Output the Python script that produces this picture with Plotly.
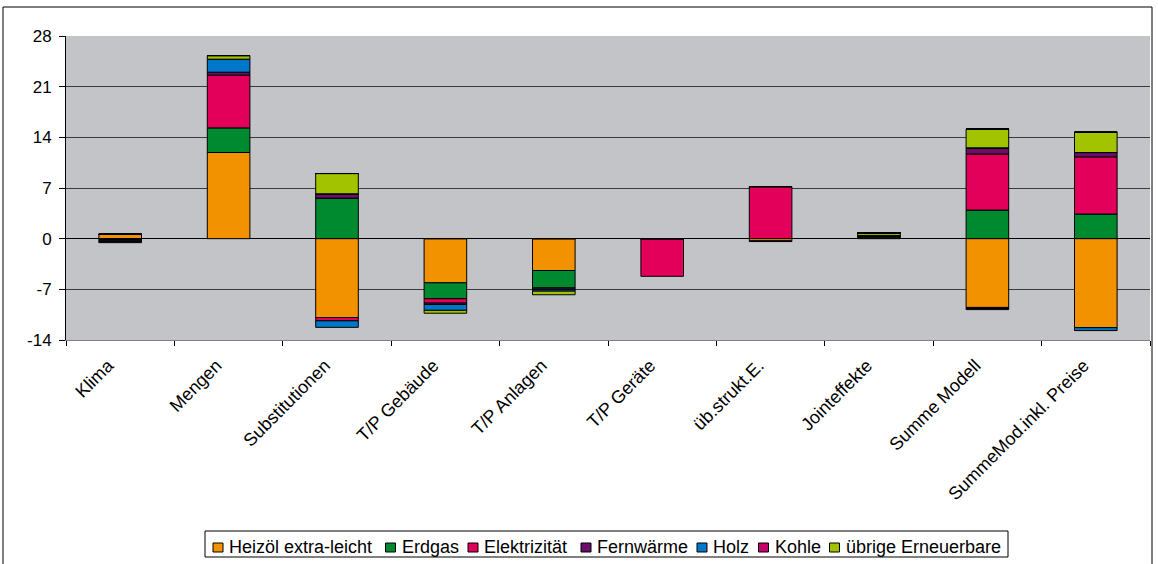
import plotly.graph_objects as go

categories = ["Klima", "Mengen", "Substitutionen", "T/P Gebäude", "T/P Anlagen",
              "T/P Geräte", "üb.strukt.E.", "Jointeffekte", "Summe Modell",
              "SummeMod.inkl. Preise"]

series_names = ["Heizöl extra-leicht", "Erdgas", "Elektrizität", "Fernwärme",
                "Holz", "Kohle", "übrige Erneuerbare"]
colors = ["#F39200", "#008A30", "#E2005A", "#6A0F6A", "#0077C8", "#C8006E", "#A2C400"]

# positive and negative contributions per series (stacked in order)
heizoel_pos = [0.6, 11.9, 0, 0, 0, 0, 0, 0.1, 0, 0]
heizoel_neg = [0, 0, -10.9, -6.1, -4.4, 0, -0.3, 0, -9.5, -12.3]
erdgas_pos = [0, 3.4, 5.6, 0, 0, 0, 0, 0.15, 3.95, 3.4]
erdgas_neg = [-0.1, 0, 0, -2.2, -2.4, 0, 0, 0, 0, 0]
elek_pos = [0, 7.3, 0, 0, 0, 0, 7.2, 0.1, 7.75, 7.9]
elek_neg = [-0.1, 0, -0.45, -0.6, 0, -5.2, -0.1, 0, -0.15, 0]
fern_pos = [0, 0.4, 0.6, 0, 0, 0, 0, 0.1, 0.85, 0.6]
fern_neg = [-0.15, 0, 0, -0.2, -0.2, 0, 0, 0, -0.15, 0]
holz_pos = [0, 1.8, 0, 0, 0, 0, 0, 0, 0, 0]
holz_neg = [-0.1, 0, -0.9, -0.8, -0.25, 0, 0, 0, 0, -0.4]
kohle_pos = [0, 0, 0, 0, 0, 0, 0, 0, 0, 0]
kohle_neg = [0, 0, 0, 0, 0, 0, 0, 0, 0, 0]
uebrig_pos = [0, 0.5, 2.8, 0, 0, 0, 0, 0.35, 2.6, 2.8]
uebrig_neg = [-0.1, 0, 0, -0.4, -0.5, 0, 0, 0, 0, 0]

values = [
    (heizoel_pos, heizoel_neg),
    (erdgas_pos, erdgas_neg),
    (elek_pos, elek_neg),
    (fern_pos, fern_neg),
    (holz_pos, holz_neg),
    (kohle_pos, kohle_neg),
    (uebrig_pos, uebrig_neg),
]

y_ticks = [-14, -7, 0, 7, 14, 21, 28]

FONT = "Liberation Sans, Arial, sans-serif"
W, H = 1158, 564
ML, MR, MT, MB = 66, 8, 36, 224
PW, PH = W - ML - MR, H - MT - MB


def px(x):
    return (x - ML) / PW


def py(y):
    return (H - MB - y) / PH


fig = go.Figure()
for part in (0, 1):
    for name, col, vals in zip(series_names, colors, values):
        fig.add_trace(go.Bar(
            x=categories, y=vals[part], name=name, legendgroup=name,
            marker=dict(color=col, line=dict(color="#000000", width=1)),
            showlegend=False,
        ))

# manual legend (layout positions in pixels)
legend_sq_x = [213, 385.5, 468, 581, 697, 758.5, 829.5]
shapes = [
    dict(type="rect", xref="paper", yref="paper",
         x0=px(3), x1=px(1152), y0=py(600), y1=py(7),
         line=dict(color="#000000", width=1), layer="below"),
    dict(type="rect", xref="paper", yref="paper",
         x0=px(205), x1=px(1008), y0=py(557), y1=py(531),
         line=dict(color="#000000", width=1), fillcolor="#FFFFFF"),
]
annotations = []
for name, col, sx in zip(series_names, colors, legend_sq_x):
    shapes.append(dict(type="rect", xref="paper", yref="paper",
                       x0=px(sx), x1=px(sx + 10), y0=py(552), y1=py(543),
                       line=dict(color="#000000", width=1), fillcolor=col))
    annotations.append(dict(xref="paper", yref="paper", x=px(sx + 14), y=py(546.5),
                            xanchor="left", yanchor="middle", showarrow=False,
                            text=name, font=dict(family=FONT, size=18, color="#000000")))

fig.update_layout(
    width=W, height=H,
    barmode="relative", bargap=0.607,
    paper_bgcolor="#FFFFFF",
    plot_bgcolor="#C3C4C8",
    margin=dict(l=ML, r=MR, t=MT, b=MB),
    font=dict(family=FONT, size=18, color="#000000"),
    showlegend=False,
    xaxis=dict(
        type="category", tickangle=-45, showgrid=False,
        showline=True, linecolor="#808080", linewidth=1,
        ticks="outside", ticklen=5, tickcolor="#000000",
        tickson="boundaries", tickfont=dict(size=18),
        ticklabelstandoff=7, ticklabelshift=-12,
    ),
    yaxis=dict(
        range=[-14, 28], tickvals=y_ticks, ticktext=[str(v) for v in y_ticks],
        showgrid=True, gridcolor="#3a3a3a", gridwidth=1,
        zeroline=True, zerolinecolor="#000000", zerolinewidth=1,
        showline=True, linecolor="#000000", linewidth=1,
        ticks="outside", ticklen=6, tickcolor="#000000",
        tickfont=dict(size=17), ticklabelstandoff=4,
    ),
    shapes=shapes,
    annotations=annotations,
)

fig.write_html("out.html")
